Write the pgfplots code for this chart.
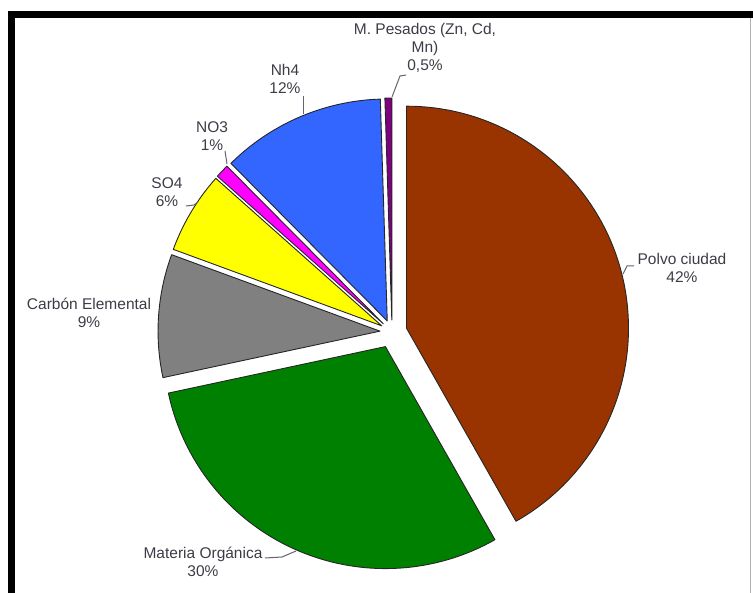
\documentclass[border=0pt]{standalone}
\usepackage{pgfplots}
\usepackage{pgfplotstable}
\pgfplotsset{compat=1.18}
\usepackage{fontspec}
\setmainfont{Liberation Sans}
\definecolor{cbrown}{RGB}{153,51,0}
\definecolor{cgreen}{RGB}{0,128,0}
\definecolor{cgray}{RGB}{128,128,128}
\definecolor{cyellow}{RGB}{255,255,0}
\definecolor{cmagenta}{RGB}{255,0,255}
\definecolor{cblue}{RGB}{51,102,255}
\definecolor{cpurple}{RGB}{128,0,128}
\definecolor{ctext}{RGB}{60,60,70}
\definecolor{clead}{RGB}{100,100,110}

% value (%), explosion offset, fill colour -- drawn clockwise from 12 o'clock
\pgfplotstableread[col sep=comma]{
value,explode,col
42,15,cbrown
30,16,cgreen
9,12,cgray
6,12,cyellow
1,12,cmagenta
12,12,cblue
0.5,12,cpurple
}\piedata

\begin{document}
\begin{tikzpicture}
\begin{axis}[
  x=1pt, y=1pt, y dir=reverse,
  xmin=0, xmax=753, ymin=0, ymax=593,
  hide axis, clip=false,
]
\def\cumul{0}
\pgfmathsetmacro\degper{360/100.5}
\pgfplotsforeachungrouped \i in {0,...,6}{%
  \pgfplotstablegetelem{\i}{value}\of\piedata \let\sval\pgfplotsretval
  \pgfplotstablegetelem{\i}{explode}\of\piedata \let\sexp\pgfplotsretval
  \pgfplotstablegetelem{\i}{col}\of\piedata \let\scol\pgfplotsretval
  \pgfmathsetmacro\sa{90-\cumul*\degper}%
  \pgfmathsetmacro\ea{90-(\cumul+\sval)*\degper}%
  \pgfmathsetmacro\ma{(\sa+\ea)/2}%
  \pgfmathsetmacro\cumul{\cumul+\sval}%
  \edef\cmd{\noexpand\filldraw[fill=\scol, draw=black!85, line width=0.9pt, line join=round]
    (axis cs:392,332) ++(\ma:\sexp pt) -- ++(\sa:222pt)
    arc[start angle=\sa, end angle=\ea, radius=222pt] -- cycle;}%
  \cmd
}

% leader lines
\draw[clead, line width=1pt] (axis cs:623,274) -- (axis cs:627,266) -- (axis cs:634,266);
\draw[clead, line width=1pt] (axis cs:265,558) -- (axis cs:282,557) -- (axis cs:296,551);
\draw[clead, line width=1pt] (axis cs:303,96) -- (axis cs:303,114);
\draw[clead, line width=1pt] (axis cs:225,151) -- (axis cs:227,164);
\draw[clead, line width=1pt] (axis cs:186,206) -- (axis cs:194,205) -- (axis cs:198,202);
\draw[clead, line width=1pt] (axis cs:406,75) -- (axis cs:400,76) -- (axis cs:392,97);

% labels
\begin{scope}[every node/.style={align=center, text=ctext, font=\fontsize{15.5}{18}\selectfont, inner sep=0pt}]
\node at (axis cs:425,48) {M. Pesados (Zn, Cd,\\Mn)\\0,5\%};
\node at (axis cs:285,79) {Nh4\\12\%};
\node at (axis cs:212,136) {NO3\\1\%};
\node at (axis cs:167,192.5) {SO4\\6\%};
\node at (axis cs:89,312.5) {Carbón Elemental\\9\%};
\node at (axis cs:682,267.5) {Polvo ciudad\\42\%};
\node at (axis cs:203,562) {Materia Orgánica\\30\%};
\end{scope}

% frame
\draw[black!30, line width=1.5pt] (axis cs:750.5,18) -- (axis cs:750.5,593);
\draw[black, line width=7pt] (axis cs:11,593) -- (axis cs:11,15) -- (axis cs:753,15);
\end{axis}
\pgfresetboundingbox
\path[use as bounding box] (0,0) rectangle (753pt,593pt);
\end{tikzpicture}
\end{document}
